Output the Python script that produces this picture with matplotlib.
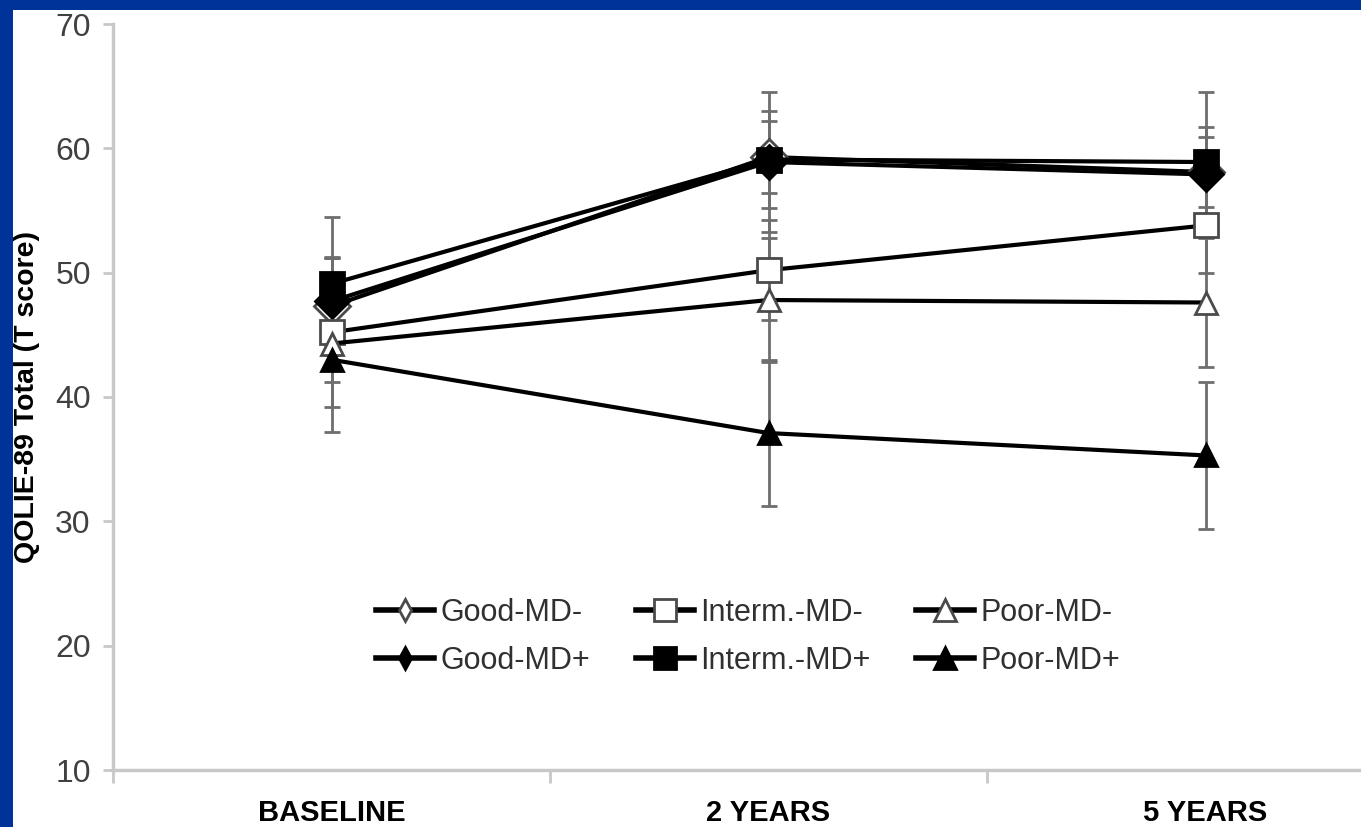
import matplotlib
matplotlib.use('Agg')
import matplotlib.pyplot as plt
from matplotlib.lines import Line2D
from matplotlib.patches import Rectangle
from matplotlib.ticker import FixedLocator, NullFormatter

plt.rcParams['font.family'] = ['Liberation Sans', 'DejaVu Sans']

# значения
categories = ['BASELINE', '2 YEARS', '5 YEARS']
series_names = ['Good-MD-', 'Good-MD+', 'Interm.-MD-', 'Interm.-MD+', 'Poor-MD-', 'Poor-MD+']

good_md_minus = [47.3, 59.3, 58.1]
good_md_plus = [47.7, 58.9, 57.9]
interm_md_minus = [45.2, 50.2, 53.8]
interm_md_plus = [49.1, 59.1, 58.9]
poor_md_minus = [44.3, 47.8, 47.6]
poor_md_plus = [43.0, 37.1, 35.3]

good_md_minus_err = [3.9, 2.9, 2.8]
good_md_plus_err = [3.6, 5.6, 3.8]
interm_md_minus_err = [6.0, 4.0, 3.8]
interm_md_plus_err = [5.4, 3.9, 5.6]
poor_md_minus_err = [3.1, 5.0, 5.2]
poor_md_plus_err = [5.8, 5.9, 5.9]

values = [good_md_minus, good_md_plus, interm_md_minus, interm_md_plus, poor_md_minus, poor_md_plus]
errors = [good_md_minus_err, good_md_plus_err, interm_md_minus_err,
          interm_md_plus_err, poor_md_minus_err, poor_md_plus_err]

# маркер, заливка, размер на графике, маркер и размер в легенде
styles = [
    ('D', 'white', 18, 'd', 11),
    ('D', 'black', 17, 'd', 11),
    ('s', 'white', 17, 's', 16),
    ('s', 'black', 17, 's', 16),
    ('^', 'white', 16, '^', 16),
    ('^', 'black', 16, '^', 16),
]

blue = '#003399'
axis_gray = '#c8c8c8'

fig = plt.figure(figsize=(13.61, 8.27), dpi=100, facecolor='white')
ax = fig.add_axes([113 / 1361, 57 / 827, 1311 / 1361, 746 / 827])

x = [i + 0.5 for i in range(len(categories))]

handles = []
for name, y, err, (m, face, ms, lm, lms) in zip(series_names, values, errors, styles):
    edge = '#4a4a4a' if face == 'white' else 'black'
    ax.errorbar(x, y, yerr=err, fmt='none', ecolor='#6e6e6e', elinewidth=2,
                capsize=5.5, capthick=2, zorder=1)
    ax.plot(x, y, color='black', linewidth=3, marker=m, markersize=ms,
            markerfacecolor=face, markeredgecolor=edge, markeredgewidth=2, zorder=2)
    handles.append(Line2D([], [], color='black', linewidth=4, marker=lm, markersize=lms,
                          markerfacecolor=face, markeredgecolor=edge, markeredgewidth=2,
                          label=name))

ax.set_xlim(0, 3)
ax.set_ylim(10, 70)
ax.set_yticks(range(10, 71, 10))

# подписи категорий по центрам, штрихи на границах
ax.xaxis.set_major_locator(FixedLocator([0, 1, 2, 3]))
ax.xaxis.set_major_formatter(NullFormatter())
ax.xaxis.set_minor_locator(FixedLocator(x))
ax.set_xticklabels(categories, minor=True)
ax.tick_params(axis='x', which='major', direction='out', length=9, width=2, color=axis_gray)
ax.tick_params(axis='x', which='minor', length=0, pad=21, labelsize=21)
for lbl in ax.get_xticklabels(minor=True):
    lbl.set_fontweight('bold')
    lbl.set_color('black')

ax.tick_params(axis='y', direction='out', length=7, width=2, color=axis_gray,
               labelsize=23, labelcolor='#404040', pad=9)

for side in ['top', 'right']:
    ax.spines[side].set_visible(False)
for side in ['left', 'bottom']:
    ax.spines[side].set_color(axis_gray)
    ax.spines[side].set_linewidth(2.5)

ax.set_ylabel('QOLIE-89 Total (T score)', fontsize=20.5, fontweight='bold', color='black')
ax.yaxis.set_label_coords(-0.056, 0.5)

leg = fig.legend(handles=handles, loc='center', bbox_to_anchor=(748 / 1361, 1 - 637 / 827),
                 ncol=3, frameon=False, fontsize=22, handlelength=1.9, handletextpad=0.2,
                 columnspacing=1.5, labelspacing=0.6)
for t in leg.get_texts():
    t.set_color('#303030')

# синяя рамка слайда слева и сверху
fig.add_artist(Rectangle((0, 0), 13 / 1361, 1, transform=fig.transFigure,
                         facecolor=blue, edgecolor='none', zorder=10))
fig.add_artist(Rectangle((0, 1 - 10 / 827), 1, 10 / 827, transform=fig.transFigure,
                         facecolor=blue, edgecolor='none', zorder=10))

fig.savefig('out.png', dpi=100, facecolor='white')
plt.close(fig)
